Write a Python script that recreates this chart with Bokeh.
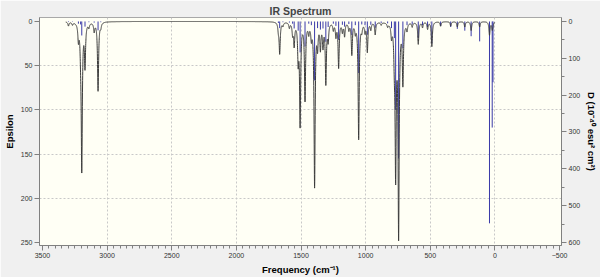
import numpy as np
from bokeh.plotting import figure
from bokeh.models import Range1d, LinearAxis, FixedTicker, ColumnDataSource
from bokeh.embed import file_html
from bokeh.resources import INLINE

# Vibrational modes
freq_cm1 = [3299, 3268, 3222, 3205, 3196, 3171, 3141, 3100, 3070, 3049,
            1675, 1665, 1640, 1590, 1565, 1553, 1522, 1507, 1469, 1440,
            1420, 1395, 1372, 1350, 1330, 1308, 1290, 1250, 1230, 1209,
            1180, 1163, 1130, 1107, 1080, 1054, 1030, 1005, 987, 960,
            926, 880, 830, 800, 778, 768, 745, 712, 680, 640,
            593, 560, 521, 488, 420, 342, 291, 233, 184, 118,
            42, 21, 15]
epsilon_peak = [4.5, 3, 18, 20, 164, 48, 5, 10, 78, 5,
                8, 35, 4, 6, 12, 25, 40, 114, 87, 10,
                15, 185, 25, 28, 25, 68, 19, 8, 15, 51,
                10, 15, 8, 36, 10, 132, 8, 10, 33, 8,
                14, 3, 4, 14, 30, 167, 238, 67, 8, 5,
                25, 6, 8, 28, 5, 5, 6, 6, 10, 6,
                15, 8, 3]
dipole_D = [1.5, 1, 6, 8, 38, 14, 2, 3, 24, 2,
            4, 18, 2, 3, 6, 19, 25, 84, 68, 6,
            10, 160, 18, 22, 19, 55, 15, 6, 12, 50,
            9, 14, 7, 37, 10, 140, 8, 10, 36, 9,
            17, 4, 5, 18, 45, 240, 372, 73, 10, 8,
            45, 10, 15, 60, 12, 15, 20, 25, 40, 54,
            548, 288, 165]
x_ticks = [3500, 3000, 2500, 2000, 1500, 1000, 500, 0, -500]
eps_ticks = [0, 50, 100, 150, 200, 250]
d_ticks = [0, 100, 200, 300, 400, 500, 600]

hwhm = 5.0
grid_x = np.arange(3320.0, -0.01, -0.5)
f = np.array(freq_cm1, dtype=float)[:, None]
h = np.array(epsilon_peak, dtype=float)[:, None]
spec = (h * hwhm**2 / ((grid_x[None, :] - f) ** 2 + hwhm**2)).sum(axis=0)

spec_src = ColumnDataSource(dict(x=grid_x, y=spec))
stick_src = ColumnDataSource(dict(x=freq_cm1, y0=[0] * len(freq_cm1), y1=dipole_D))

p = figure(width=600, height=277, output_backend="svg", toolbar_location=None,
           x_range=Range1d(3523, -515), y_range=Range1d(253.4, -4.5),
           min_border_left=34, min_border_right=38, min_border_top=17,
           min_border_bottom=32,
           background_fill_color="#fffff5", border_fill_color="#f0f0f0",
           outline_line_color="#a8a8a8")
p.extra_y_ranges = {"D": Range1d(253.4 * 2.4, -4.5 * 2.4)}

p.title.text = "IR Spectrum"
p.title.align = "center"
p.title.text_font = "Liberation Sans"
p.title.text_font_size = "10.5px"
p.title.text_font_style = "bold"
p.title.standoff = 2

p.segment(x0="x", y0="y0", x1="x", y1="y1", source=stick_src,
          y_range_name="D", line_color="#3a3aa8", line_width=1)
p.line(x="x", y="y", source=spec_src, line_color="#3c3c3c", line_width=1)

p.xaxis.ticker = FixedTicker(ticks=x_ticks, minor_ticks=list(range(-500, 3501, 50)))
p.yaxis.ticker = FixedTicker(ticks=eps_ticks)
p.xaxis.axis_label = "Frequency (cm\u207b\u00b9)"
p.yaxis.axis_label = "Epsilon"

rax = LinearAxis(y_range_name="D", axis_label="D (10\u207b\u2074\u2070 esu\u00b2 cm\u00b2)",
                 ticker=FixedTicker(ticks=d_ticks, minor_ticks=list(range(0, 601, 50))))
p.add_layout(rax, "right")

for ax in [p.xaxis[0], p.yaxis[0], rax]:
    ax.axis_line_color = "#808080"
    ax.major_tick_line_color = "#808080"
    ax.minor_tick_line_color = "#808080"
    ax.major_tick_out = 5
    ax.major_tick_in = 0
    ax.minor_tick_out = 3
    ax.minor_tick_in = 0
    ax.major_label_text_font = "Liberation Sans"
    ax.major_label_text_font_size = "7px"
    ax.major_label_text_color = "#333333"
    ax.major_label_standoff = 2
    ax.axis_label_text_font = "Liberation Sans"
    ax.axis_label_text_font_size = "9.5px"
    ax.axis_label_text_font_style = "bold"
    ax.axis_label_text_color = "#000000"
    ax.axis_label_standoff = 3
p.yaxis[0].minor_tick_line_color = None

p.xgrid.ticker = FixedTicker(ticks=[3000, 2500, 2000, 1500, 1000, 500, 0])
p.ygrid.ticker = FixedTicker(ticks=[50, 100, 150, 200])
p.grid.grid_line_color = "#c8c8c8"
p.grid.grid_line_dash = "2 2"

open("out.html", "w").write(file_html(p, INLINE))
